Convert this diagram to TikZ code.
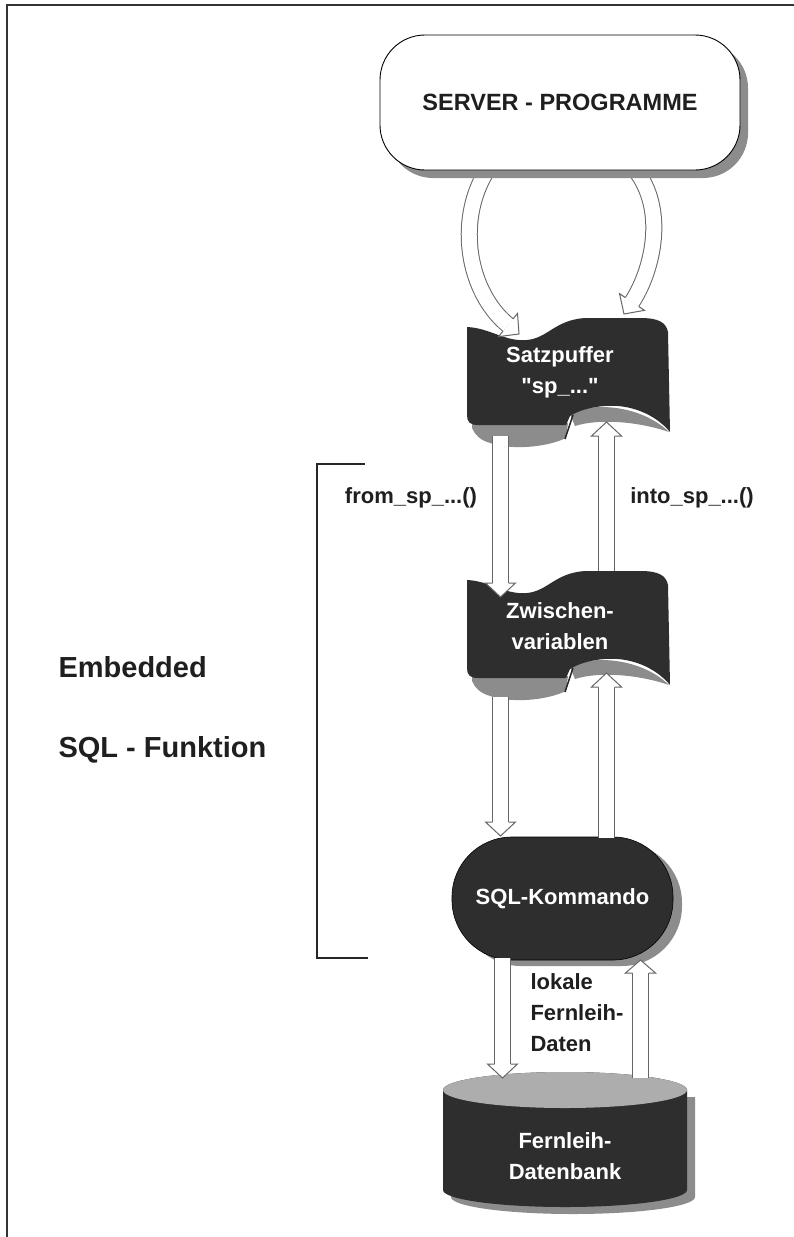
\documentclass[tikz,border=0pt]{standalone}
\usepackage{fontspec}
\setmainfont{Liberation Sans}[Ligatures=TeXOff]
\usetikzlibrary{calc}
\tikzset{
  shaft/.style={draw=black!60, line width=1pt, double=white, double distance=15pt},
  headline/.style={draw=black!60, line width=1pt, line join=miter},
  dark/.style={fill=black!82},
  hatch/.style={fill=black!45},
  lighthatch/.style={fill=black!32},
  inlabel/.style={text=white, align=center, font=\bfseries\fontsize{22}{31}\selectfont},
  outlabel/.style={text=black!88, font=\bfseries\fontsize{22}{31}\selectfont},
  biglabel/.style={text=black!88, font=\bfseries\fontsize{29}{36}\selectfont, anchor=west},
  frameline/.style={draw=black!80, line width=1.3pt},
  serverbox/.style={draw=black, line width=0.9pt, fill=white, rounded corners=45pt,
    minimum width=360pt, minimum height=135pt, text=black!88,
    font=\bfseries\fontsize{23.5}{28}\selectfont},
  sqlbox/.style={draw=black, line width=0.6pt, fill=black!82, rounded corners=60pt,
    minimum width=221pt, minimum height=123pt, text=white,
    font=\bfseries\fontsize{22}{28}\selectfont},
}
\newcommand\hollowhead[2]{%
  \fill[white] ($(#1)!8.5pt!90:(#2)$) -- ($(#1)!15pt!90:(#2)$) -- (#2)
     -- ($(#1)!15pt!-90:(#2)$) -- ($(#1)!8.5pt!-90:(#2)$) -- cycle;
  \draw[headline] ($(#1)!8pt!90:(#2)$) -- ($(#1)!15pt!90:(#2)$) -- (#2)
     -- ($(#1)!15pt!-90:(#2)$) -- ($(#1)!8pt!-90:(#2)$);}
\newcommand\hollowarrow[3]{%
  \draw[shaft] (#1) -- (#2);
  \hollowhead{#2}{#3}}
\newcommand\tapeshape{%
  \fill[hatch] (472,423) -- (568,423) -- (566,438) .. controls (545,448) and (510,450) .. (490,443)
     .. controls (480,440) and (475,435) .. (472,428) -- cycle;
  \fill[hatch] (570,414) .. controls (590,402) and (640,404) .. (669,432)
     .. controls (640,422) and (600,418) .. (575,426) -- cycle;
  \fill[dark] (467,327) .. controls (490,328) and (505,342) .. (527,340)
     .. controls (548,338) and (555,320) .. (585,318) -- (640,318)
     .. controls (658,318) and (666,322) .. (668,332) -- (670,432)
     .. controls (655,414) and (630,404) .. (605,406)
     .. controls (590,407) and (578,411) .. (570,416) -- (566,425) -- (478,425)
     .. controls (470,425) and (467,422) .. (467,415) -- cycle;
  \draw[black!85, line width=1.5pt] (565,439) -- (573,415);}
\begin{document}
\begin{tikzpicture}[x=1pt,y=-1pt]
\useasboundingbox (0,0) rectangle (794,1237);
\fill[white] (0,0) rectangle (794,1237);
% frame
\draw[frameline] (794,5) -- (7,5) -- (7,1237);

% Satzpuffer and Zwischenvariablen
\tapeshape
\node[inlabel] (satz) at (560,372) {Satzpuffer\\"sp\_..."};
\begin{scope}[shift={(0,253)}]
  \tapeshape
\end{scope}
\node[inlabel] (zwisch) at (560,626) {Zwischen-\\variablen};

% SQL-Kommando
\fill[hatch, rounded corners=60pt] (461,843) rectangle (682,966);
\node[sqlbox] (sql) at (562.5,898.5) {SQL-Kommando};

% Datenbank
\fill[hatch] (451,1097) -- (451,1197) arc[start angle=180, end angle=360, x radius=122pt, y radius=17pt]
   -- (695,1097) -- cycle;
\fill[dark] (443,1090) -- (443,1190) arc[start angle=180, end angle=360, x radius=122pt, y radius=17pt]
   -- (687,1090) arc[start angle=0, end angle=180, x radius=122pt, y radius=18pt] -- cycle;
\fill[lighthatch] (565,1090) ellipse [x radius=122pt, y radius=18pt];
\node[inlabel] (db) at (565,1156) {Fernleih-\\Datenbank};

% arrow coordinates
\coordinate (a1s) at (500.5,436); \coordinate (a1b) at (500.5,583); \coordinate (a1t) at (500.5,597);
\coordinate (a2s) at (606.5,571); \coordinate (a2b) at (606.5,436); \coordinate (a2t) at (606.5,422);
\coordinate (a3s) at (500.5,697); \coordinate (a3b) at (500.5,822); \coordinate (a3t) at (500.5,836);
\coordinate (a4s) at (606.5,838); \coordinate (a4b) at (606.5,687); \coordinate (a4t) at (606.5,673);
\coordinate (a5s) at (502.5,958); \coordinate (a5b) at (502.5,1064); \coordinate (a5t) at (502.5,1078);
\coordinate (a6s) at (640.5,1078); \coordinate (a6b) at (640.5,973); \coordinate (a6t) at (640.5,960);
\coordinate (cls) at (486,172); \coordinate (clb) at (508,325); \coordinate (clt) at (519,334);
\coordinate (crs) at (637,172); \coordinate (crb) at (632,302); \coordinate (crt) at (624,314);

% straight hollow arrows
\hollowarrow{a1s}{a1b}{a1t}
\hollowarrow{a2s}{a2b}{a2t}
\hollowarrow{a3s}{a3b}{a3t}
\hollowarrow{a4s}{a4b}{a4t}
\hollowarrow{a5s}{a5b}{a5t}
\hollowarrow{a6s}{a6b}{a6t}
% curved hollow arrows
\draw[shaft] (cls) .. controls (456,222) and (468,292) .. (clb);
\hollowhead{clb}{clt}
\draw[shaft] (crs) .. controls (668,215) and (650,275) .. (crb);
\hollowhead{crb}{crt}

% Server
\fill[hatch, rounded corners=45pt] (388,43) rectangle (748,178);
\node[serverbox] (server) at (560,102.5) {SERVER - PROGRAMME};

% labels
\node[outlabel] (from) at (411,498) {from\_sp\_...()};
\node[outlabel] (into) at (692,498) {into\_sp\_...()};
\node[outlabel, align=left, anchor=west] (lokal) at (527,1013) {lokale\\Fernleih-\\Daten};
\node[biglabel] (emb) at (55,667) {Embedded};
\node[biglabel] (sqlf) at (55,750) {SQL - Funktion};

% bracket
\draw[black!85, line width=2.5pt] (365,464) -- (317,464) -- (317,958) -- (368,958);
\end{tikzpicture}
\end{document}
